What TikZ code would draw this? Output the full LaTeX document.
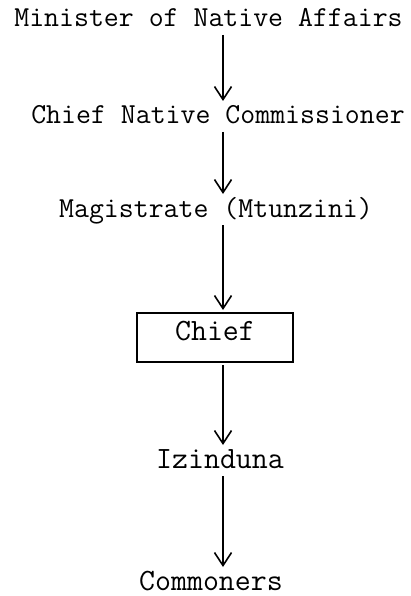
\documentclass[tikz,border=0pt]{standalone}
\usepackage{fontspec}
\usetikzlibrary{arrows.meta, positioning}

\tikzset{
  nivel/.style={inner sep=0pt, outer sep=4pt, anchor=base, text height=19pt, text depth=4pt,
    font=\ttfamily\fontsize{29}{34}\selectfont},
  nivelg/.style={nivel, font=\ttfamily\fontsize{31}{36}\selectfont},
  caja/.style={draw, line width=1.2pt, inner sep=0pt, outer sep=3pt, minimum width=156pt,
    minimum height=49pt, text height=19pt, text depth=14pt,
    font=\ttfamily\fontsize{31}{36}\selectfont},
  flecha/.style={-{Straight Barb[length=13pt,width=17pt]}, line width=1.6pt}
}

\begin{document}
\begin{tikzpicture}[x=1pt, y=-1pt]
    \useasboundingbox (0,0) rectangle (411,596);
    % niveles
    \node [nivel] (min) at (208.5,27) {Minister of Native Affairs};
    \node [nivel] (cnc) at (218,124) {Chief Native Commissioner};
    \node [nivel] (mag) at (216,217) {Magistrate (Mtunzini)};
    \node [caja] (chief) at (215,337.5) {Chief};
    \node [nivelg] (izi) at (220,468) {Izinduna};
    \node [nivelg, text depth=0pt] (com) at (211,590) {Commoners};
    \coordinate (col) at (223,0);

    % flechas
    \path[flecha]
    (min.south -| col) edge (cnc.north -| col)
    (cnc.south -| col) edge (mag.north -| col)
    (mag.south -| col) edge (chief.north -| col)
    (chief.south -| col) edge (izi.north -| col)
    (izi.south -| col) edge (com.north -| col);
\end{tikzpicture}
\end{document}
